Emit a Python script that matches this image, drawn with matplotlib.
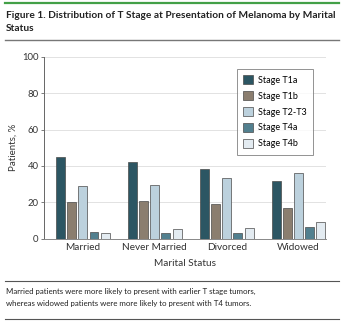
import matplotlib
matplotlib.use("Agg")
import matplotlib.pyplot as plt
from matplotlib.patches import Patch
import numpy as np

categories = ["Married", "Never Married", "Divorced", "Widowed"]
stages = ["Stage T1a", "Stage T1b", "Stage T2-T3", "Stage T4a", "Stage T4b"]
t1a = [45, 42, 38.4, 31.8]
t1b = [20.2, 20.9, 19.0, 17.0]
t2_t3 = [28.7, 29.4, 33.5, 36.0]
t4a = [3.4, 3.3, 3.3, 6.3]
t4b = [2.9, 5.0, 5.6, 9.0]
series = [t1a, t1b, t2_t3, t4a, t4b]
y_ticks = [0, 20, 40, 60, 80, 100]

colors = ["#2c5663", "#8b7e6f", "#bcd1dd", "#52808f", "#e3ebf1"]
edge = "#4a4a4a"

plt.rcParams["font.family"] = ["Lato", "DejaVu Sans"]

fig = plt.figure(figsize=(3.44, 3.23), dpi=100)
W, H = 344, 323

def fx(px):
    return px / W

def fy(py):
    return 1 - py / H

# header rules and title
fig.add_artist(plt.Line2D([fx(5), fx(339)], [fy(3.3), fy(3.3)], color="#43a047", lw=1.6))
fig.text(fx(6), fy(11), "Figure 1. Distribution of T Stage at Presentation of Melanoma by Marital\nStatus",
         ha="left", va="top", fontsize=7.3, fontweight="bold", color="#222222", linespacing=1.55)
fig.add_artist(plt.Line2D([fx(5), fx(339)], [fy(40), fy(40)], color="#777777", lw=1.0))

# footer rules and caption
fig.add_artist(plt.Line2D([fx(5), fx(339)], [fy(280.7), fy(280.7)], color="#555555", lw=0.8))
fig.text(fx(6), fy(287.5), "Married patients were more likely to present with earlier T stage tumors,\n"
         "whereas widowed patients were more likely to present with T4 tumors.",
         ha="left", va="top", fontsize=5.7, color="#222222", linespacing=1.85)
fig.add_artist(plt.Line2D([fx(5), fx(339)], [fy(319), fy(319)], color="#555555", lw=0.8))

ax = fig.add_axes([fx(44), fy(238.5), fx(326) - fx(44), fy(57) - fy(238.5)])

n = len(series)
step = 0.155
width = 0.125
x = np.arange(len(categories))
for i, (vals, name, c) in enumerate(zip(series, stages, colors)):
    ax.bar(x + (i - (n - 1) / 2) * step, vals, width=width, color=c,
           edgecolor=edge, linewidth=0.5, label=name, zorder=3)

ax.set_ylim(0, 100)
ax.set_xlim(-0.54, 3.38)
ax.set_yticks(y_ticks)
ax.set_yticklabels([str(v) for v in y_ticks], fontsize=6.8, color="#333333")
ax.set_xticks(x)
ax.set_xticklabels(categories, fontsize=7.2, color="#333333")
ax.tick_params(axis="x", length=0, pad=3)
ax.tick_params(axis="y", length=2.5, width=0.6, color="#666666", pad=1.5)
ax.grid(axis="y", color="#dddddd", lw=0.6, zorder=0)
for s in ["top", "right"]:
    ax.spines[s].set_visible(False)
ax.spines["left"].set_color("#666666")
ax.spines["left"].set_linewidth(0.7)
ax.spines["bottom"].set_color("#888888")
ax.spines["bottom"].set_linewidth(0.7)
ax.set_ylabel("Patients, %", fontsize=7.0, color="#333333", labelpad=3)
ax.set_xlabel("Marital Status", fontsize=7.2, color="#333333", labelpad=5)

handles = [Patch(facecolor=c, edgecolor=edge, linewidth=0.5, label=s) for c, s in zip(colors, stages)]
leg = ax.legend(handles=handles, loc="upper left", bbox_to_anchor=((236.7 - 44) / 282, (238.5 - 69) / 181.5),
                fontsize=6.5, frameon=True, fancybox=False, edgecolor="#777777",
                handlelength=1.15, handleheight=1.15, borderpad=0.7, labelspacing=0.7,
                handletextpad=0.5, borderaxespad=0)
leg.get_frame().set_linewidth(0.7)

fig.savefig("out.png", dpi=100)
